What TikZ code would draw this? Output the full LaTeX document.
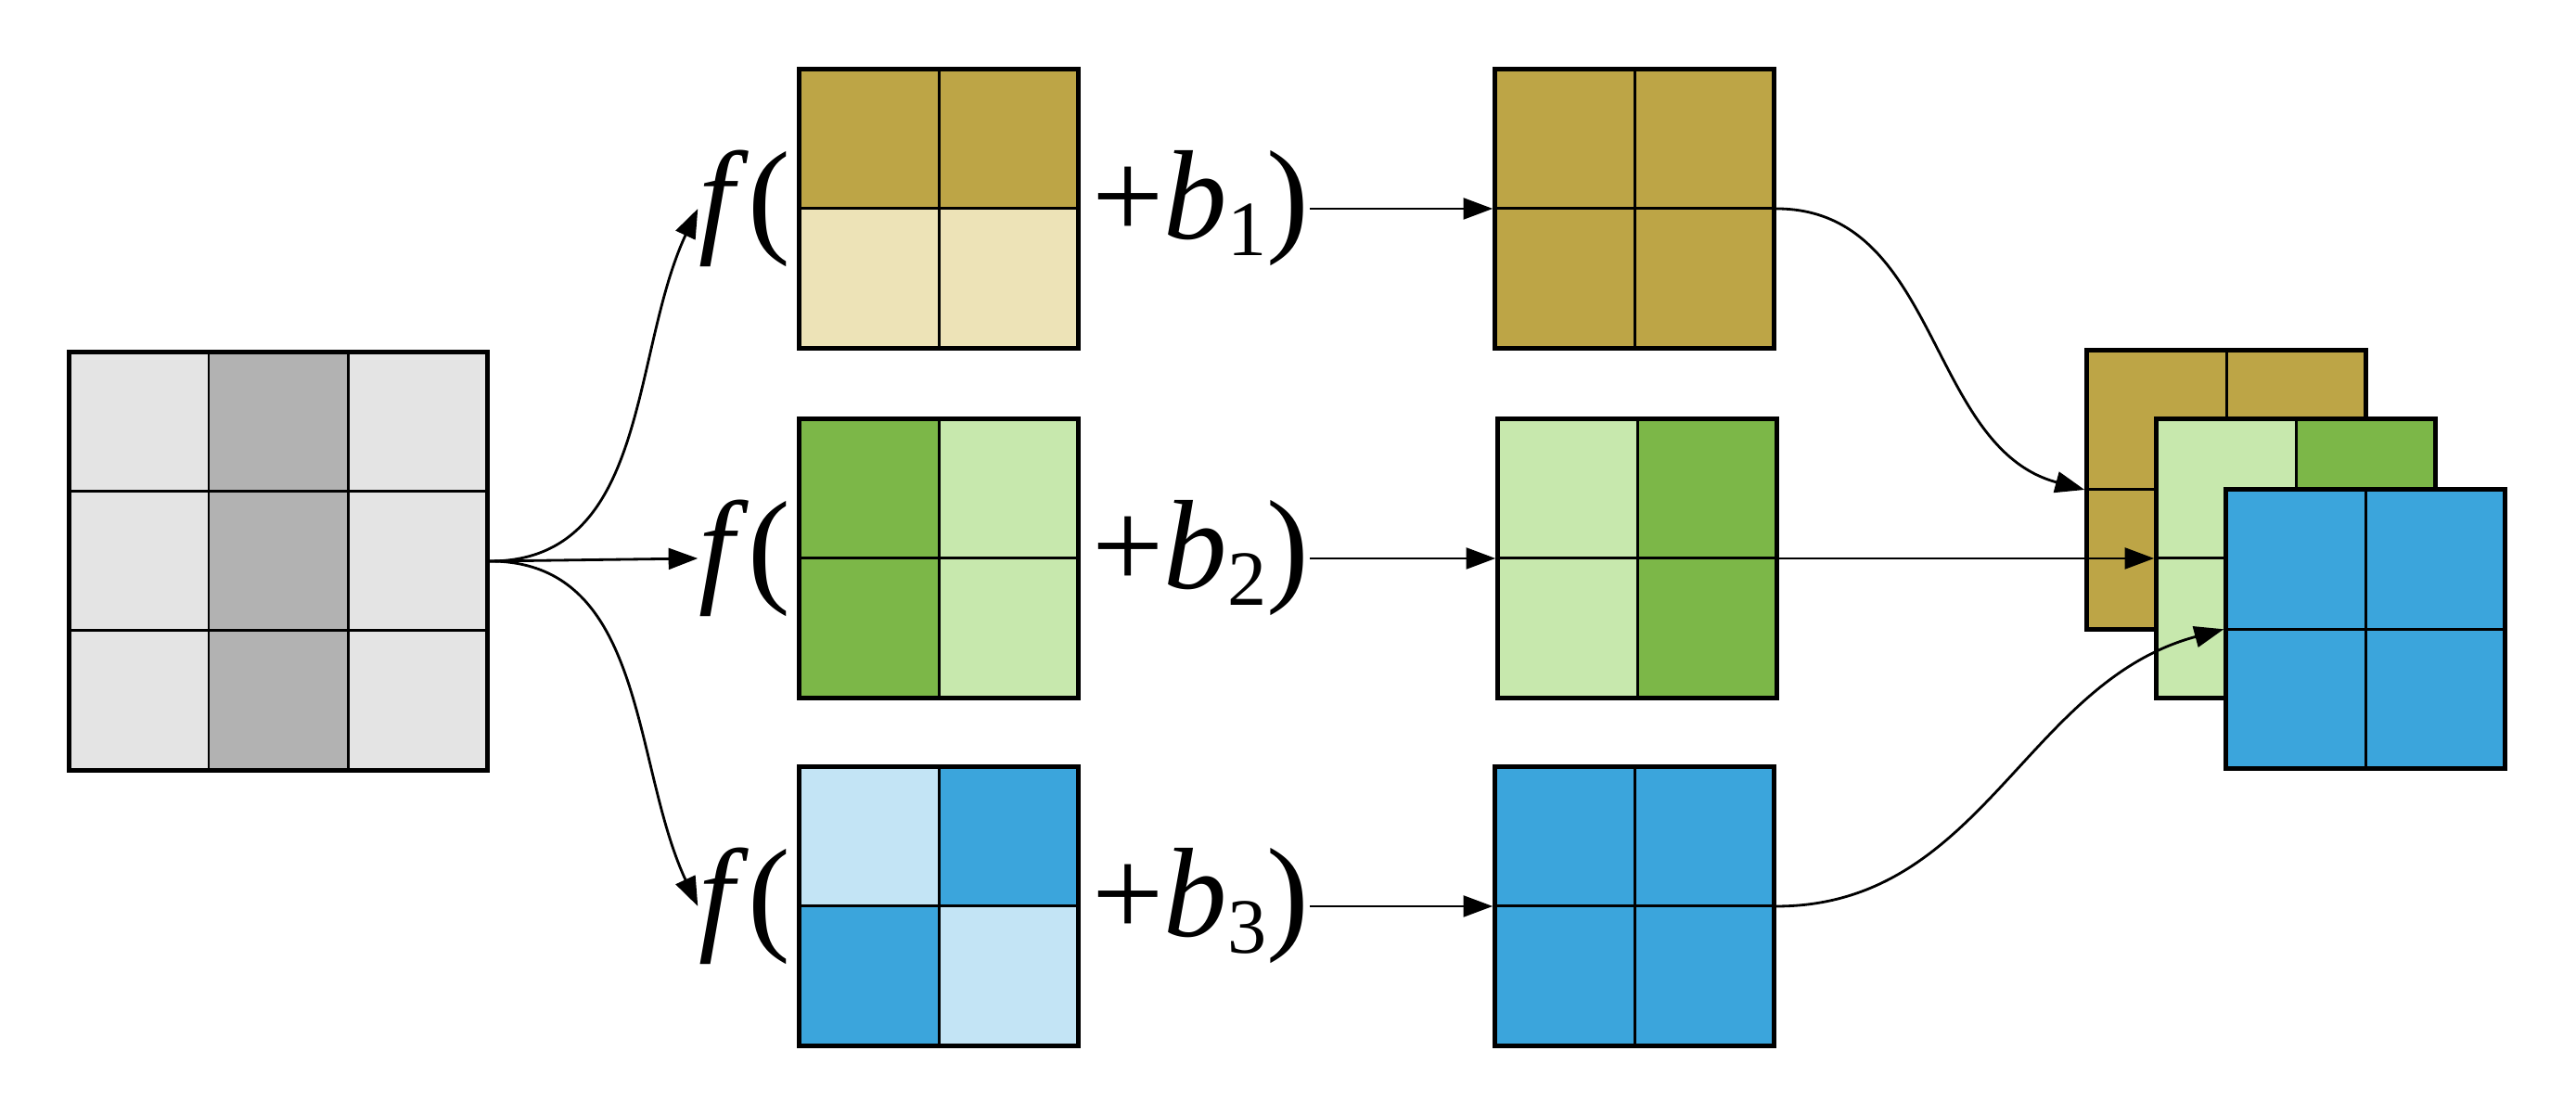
\documentclass[tikz,border=0pt]{standalone}
\usepackage{fontspec}
\setmainfont{Liberation Serif}
\usetikzlibrary{positioning,arrows.meta}

\definecolor{graylt}{HTML}{E4E4E4}
\definecolor{graydk}{HTML}{B2B2B2}
\definecolor{olivedk}{HTML}{BDA546}
\definecolor{olivelt}{HTML}{EDE3B7}
\definecolor{greendk}{HTML}{7CB748}
\definecolor{greenlt}{HTML}{C7E8AD}
\definecolor{bluedk}{HTML}{3BA5DC}
\definecolor{bluelt}{HTML}{C3E4F5}

\newcommand{\cellw}{1.505}
% four cells of a 2x2 grid around a centre: top left, top right, bottom left, bottom right
\newcommand{\fourcells}[5]{%
  \begin{scope}[shift={(#1)}]
    \fill[#2] (-\cellw,0) rectangle (0,\cellw);
    \fill[#3] (0,0) rectangle (\cellw,\cellw);
    \fill[#4] (-\cellw,-\cellw) rectangle (0,0);
    \fill[#5] (0,-\cellw) rectangle (\cellw,0);
  \end{scope}}

\tikzset{
  box2/.style={draw, line width=1.3pt, minimum width=3.01cm, minimum height=3.01cm, inner sep=0pt},
  box3/.style={draw, line width=1.3pt, minimum width=4.515cm, minimum height=4.515cm, inner sep=0pt},
  inner/.style={line width=0.85pt},
  conn/.style={line width=0.8pt, -{Triangle[length=9pt,width=6.5pt]}},
  formula/.style={inner sep=0pt, font=\fontsize{39}{42}\selectfont}
}
\newcommand{\sub}[1]{\raisebox{-0.13em}{\fontsize{24}{26}\selectfont #1}}

\begin{document}
\begin{tikzpicture}
\useasboundingbox (0,0) rectangle (27.77,12.02);

% input 3x3
\fill[graylt] (0.744,3.714) rectangle (5.26,8.23);
\fill[graydk] (2.25,3.714) rectangle (3.755,8.23);
\node[box3] (in) at (3.0,5.97) {};
\draw[inner] (2.25,3.714) -- (2.25,8.23) (3.755,3.714) -- (3.755,8.23);
\draw[inner] (0.744,5.22) -- (5.26,5.22) (0.744,6.725) -- (5.26,6.725);

% kernels
\fourcells{10.12,9.77}{olivedk}{olivedk}{olivelt}{olivelt}
\node[box2] (k1) at (10.12,9.77) {};
\fourcells{10.12,6.0}{greendk}{greenlt}{greendk}{greenlt}
\node[box2] (k2) at (10.12,6.0) {};
\fourcells{10.12,2.25}{bluelt}{bluedk}{bluedk}{bluelt}
\node[box2] (k3) at (10.12,2.25) {};
\foreach \k in {k1,k2,k3}
  \draw[inner] (\k.north) -- (\k.south) (\k.west) -- (\k.east);

\node[formula, left=0.06cm of k1] (f1) {\textit{f}(};
\node[formula, left=0.06cm of k2] (f2) {\textit{f}(};
\node[formula, left=0.06cm of k3] (f3) {\textit{f}(};
\node[formula, right=0.12cm of k1] (b1) {+\textit{b}\sub{1})};
\node[formula, right=0.12cm of k2] (b2) {+\textit{b}\sub{2})};
\node[formula, right=0.12cm of k3] (b3) {+\textit{b}\sub{3})};

% outputs
\fourcells{17.62,9.77}{olivedk}{olivedk}{olivedk}{olivedk}
\node[box2] (o1) at (17.62,9.77) {};
\fourcells{17.65,6.0}{greenlt}{greendk}{greenlt}{greendk}
\node[box2] (o2) at (17.65,6.0) {};
\fourcells{17.62,2.25}{bluedk}{bluedk}{bluedk}{bluedk}
\node[box2] (o3) at (17.62,2.25) {};
\foreach \o in {o1,o2,o3}
  \draw[inner] (\o.north) -- (\o.south) (\o.west) -- (\o.east);

% stacked maps
\fourcells{24.0,6.74}{olivedk}{olivedk}{olivedk}{olivedk}
\node[box2] (s1) at (24.0,6.74) {};
\draw[inner] (s1.north) -- (s1.south) (s1.west) -- (s1.east);
\fourcells{24.75,6.0}{greenlt}{greendk}{greenlt}{greendk}
\node[box2] (s2) at (24.75,6.0) {};
\draw[inner] (s2.north) -- (s2.south) (s2.west) -- (s2.east);
\fourcells{25.5,5.237}{bluedk}{bluedk}{bluedk}{bluedk}
\node[box2] (s3) at (25.5,5.237) {};
\draw[inner] (s3.north) -- (s3.south) (s3.west) -- (s3.east);

% connectors
\draw[conn] (in.east) to[out=0,in=245] (f1.west);
\draw[conn] (in.east) -- (f2.west);
\draw[conn] (in.east) to[out=0,in=115] (f3.west);
\draw[conn] (b1.east) -- (o1.west);
\draw[conn] (b2.east) -- (o2.west);
\draw[conn] (b3.east) -- (o3.west);
\draw[conn] (o1.east) to[out=0,in=165] (s1.west);
\draw[conn] (o2.east) -- (s2.west);
\draw[conn] (o3.east) to[out=0,in=195] (s3.west);
\end{tikzpicture}
\end{document}
